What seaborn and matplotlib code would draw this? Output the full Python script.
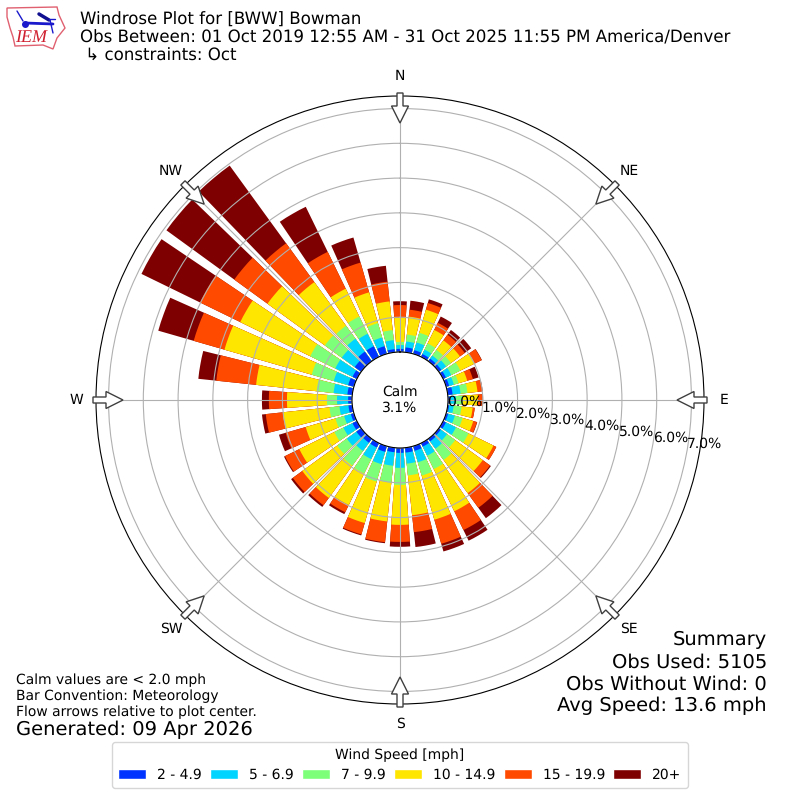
import numpy as np
import seaborn as sns
import matplotlib
matplotlib.use("Agg")
import matplotlib.pyplot as plt
from matplotlib.patches import FancyArrow, Polygon, Patch
from matplotlib.lines import Line2D

# direction of each bar, degrees from north
directions = list(range(0, 360, 10))

# percent of obs per speed class, same order as directions
speed_2_5 = [.09, .14, .11, .09, .09, .09, .09, .09, .14, .06, .04, .06, .09, .07, .09, .11, .14, .14,
             .14, .13, .17, .14, .14, .17, .14, .09, .11, .11, .14, .17, .14, .23, .34, .34, .23, .09]
speed_5_7 = [.11, .17, .23, .14, .11, .17, .17, .14, .23, .17, .13, .20, .32, .22, .26, .29, .34, .32,
             .43, .39, .37, .37, .29, .34, .29, .20, .26, .32, .40, .43, .55, .46, .46, .40, .26, .26]
speed_7_10 = [.09, .20, .29, .20, .20, .17, .29, .14, .20, .20, .23, .23, .40, .29, .40, .43, .40, .34,
              .49, .49, .52, .46, .52, .34, .29, .26, .29, .29, .49, .66, .80, .60, .46, .55, .43, .29]
speed_10_15 = [.69, .52, .69, .43, .34, .32, .46, .26, .29, .43, .32, .32, .80, .98, 1.18, 1.35, 1.32, 1.15,
               1.15, 1.12, 1.24, 1.01, 1.15, 1.24, 1.12, .89, 1.35, 1.15, 1.75, 2.61, 2.24, 2.04, 1.55, .89, .92, .83]
speed_15_20 = [.37, .20, .20, .23, .20, .17, .22, .17, .14, .14, .06, .11, .09, .26, .52, .60, .72, .49,
               .49, .60, .34, .23, .26, .34, .46, .60, .49, .52, 1.15, .92, 1.29, 1.18, 1.38, 1.18, .89, .57]
speed_20_up = [.11, .26, .11, .20, .17, .23, .01, .17, .01, .01, 0, .01, 0, .03, .37, .34, .23, .43,
               .14, .03, .03, .06, .06, .06, .03, .20, .11, .20, .52, 1.06, 1.87, 2.41, 2.76, 1.44, .75, .46]

speed_labels = ["2 - 4.9", "5 - 6.9", "7 - 9.9", "10 - 14.9", "15 - 19.9", "20+"]
speed_colors = ["#0033ff", "#00d4ff", "#7dff7a", "#ffe600", "#ff4a00", "#7f0000"]

compass_labels = ["N", "NE", "E", "SE", "S", "SW", "W", "NW"]
compass_angles = [0, 45, 90, 135, 180, 225, 270, 315]
radial_ticks = [0, 1, 2, 3, 4, 5, 6, 7]

sns.set_style("white", rc={"text.color": "black", "axes.edgecolor": "black", "axes.labelcolor": "black",
                           "xtick.color": "black", "ytick.color": "black", "axes.axisbelow": "line",
                           "grid.color": "#b0b0b0", "grid.linewidth": 0.8, "axes.linewidth": 1.0})
plt.rcParams["font.family"] = ["DejaVu Sans"]
plt.rcParams["text.hinting"] = "no_hinting"
palette = sns.color_palette(speed_colors)

fig = plt.figure(figsize=(8, 8), dpi=100)
ax = fig.add_axes([96 / 800, 96 / 800, 608 / 800, 608 / 800], projection="polar")

# stack by painting the running totals, biggest first
theta = np.deg2rad(directions)
totals = np.cumsum(np.vstack([speed_2_5, speed_5_7, speed_7_10, speed_10_15, speed_15_20, speed_20_up]), axis=0)
for i in range(5, -1, -1):
    sns.barplot(x=theta, y=totals[i], native_scale=True, width=0.8, color=palette[i], saturation=1,
                edgecolor="none", linewidth=0, errorbar=None, ax=ax)

ax.set_theta_zero_location("N")
ax.set_theta_direction(-1)
ax.set_xlabel("")
ax.set_ylabel("")
ax.set_xlim(0, 2 * np.pi)
ax.set_xticks(np.deg2rad(compass_angles))
ax.set_xticklabels(compass_labels, fontsize=10)
ax.tick_params(axis="x", length=0, pad=7.4)
ax.set_rorigin(-1.38)
ax.set_ylim(0, 7.36)
ax.set_yticks(radial_ticks)
ax.set_yticklabels(["%.1f%%" % v for v in radial_ticks], fontsize=10)
ax.set_rlabel_position(100)
ax.grid(True)

fig.text(0.5, 0.5, "Calm\n3.1%", ha="center", va="center", fontsize=10)

# flow arrows, pointing at the centre
for a in compass_angles:
    s, c = np.sin(np.deg2rad(a)), np.cos(np.deg2rad(a))
    x0, y0 = 400 + 307 * s, 400 + 307 * c
    fig.add_artist(FancyArrow(x0 / 800, y0 / 800, -30 * s / 800, -30 * c / 800, width=6 / 800,
                              head_width=17 / 800, head_length=17 / 800, length_includes_head=True,
                              facecolor="white", edgecolor="#404040", linewidth=1,
                              transform=fig.transFigure, zorder=5))

# title block
fig.text(80 / 800, 1 - 20 / 800, "Windrose Plot for [BWW] Bowman", fontsize=12, va="center")
fig.text(80 / 800, 1 - 38 / 800, "Obs Between: 01 Oct 2019 12:55 AM - 31 Oct 2025 11:55 PM America/Denver",
         fontsize=12, va="center")
fig.text(80 / 800, 1 - 56 / 800, " \u21b3 constraints: Oct", fontsize=12, va="center")

# logo
outline = np.array([(7, 8), (57, 7), (59, 15), (65, 28), (57, 38), (53, 49), (43, 45), (15, 46), (13, 37),
                    (10, 28), (7, 17)])
fig.add_artist(Polygon(np.column_stack([outline[:, 0] / 800, 1 - outline[:, 1] / 800]), closed=True, fill=False,
                       edgecolor="#e06070", linewidth=1, transform=fig.transFigure))
for xs, ys, w, col in [((25, 53), (23, 24), 2, "#1a1acc"), ((39, 49), (14, 20), 2.5, "#101090"),
                       ((17, 23), (11, 21), 1, "#1a1acc"), ((50, 53), (20, 33), 1, "#1a1acc"),
                       ((49, 55), (19, 19), 1, "#1a1acc")]:
    fig.add_artist(Line2D(np.array(xs) / 800, 1 - np.array(ys) / 800, color=col, linewidth=w,
                          transform=fig.transFigure))
fig.add_artist(Line2D([25 / 800], [1 - 23.5 / 800], marker="o", markersize=4, color="#1a1acc",
                      transform=fig.transFigure))
fig.text(31 / 800, 1 - 38 / 800, "IEM", family="Liberation Serif", style="italic", color="#d02030",
         fontsize=13, ha="center", va="center")

# notes bottom left
fig.text(16 / 800, 1 - 680 / 800, "Calm values are < 2.0 mph", fontsize=10, va="center")
fig.text(16 / 800, 1 - 696 / 800, "Bar Convention: Meteorology", fontsize=10, va="center")
fig.text(16 / 800, 1 - 712 / 800, "Flow arrows relative to plot center.", fontsize=10, va="center")
fig.text(16 / 800, 1 - 730 / 800, "Generated: 09 Apr 2026", fontsize=14, va="center")

# summary bottom right
fig.text(767 / 800, 1 - 640 / 800, "Summary", fontsize=14, ha="right", va="center")
fig.text(767 / 800, 1 - 662 / 800, "Obs Used: 5105", fontsize=14, ha="right", va="center")
fig.text(767 / 800, 1 - 684 / 800, "Obs Without Wind: 0", fontsize=14, ha="right", va="center")
fig.text(767 / 800, 1 - 706 / 800, "Avg Speed: 13.6 mph", fontsize=14, ha="right", va="center")

handles = [Patch(facecolor=c, label=l) for c, l in zip(palette, speed_labels)]
fig.legend(handles=handles, title="Wind Speed [mph]", ncol=6, loc="center", bbox_to_anchor=(0.5, 1 - 765 / 800),
           fontsize=10, title_fontsize=10, frameon=True, columnspacing=0.6, borderpad=0.45)

fig.savefig("out.png", dpi=100)
